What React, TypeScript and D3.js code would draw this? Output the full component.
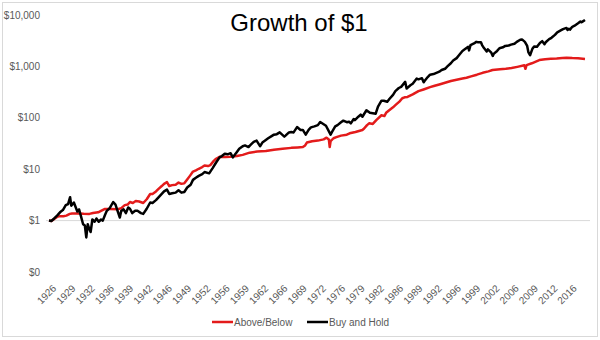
import React from "react";
import * as d3 from "d3";

const W = 600;
const H = 340;

const xTickLabels = ["1926","1929","1932","1936","1939","1942","1946","1949","1952","1956","1959","1962","1966","1969","1972","1976","1979","1982","1986","1989","1992","1996","1999","2002","2006","2009","2012","2016"];
const yTickValues = [0.1, 1, 10, 100, 1000, 10000];
const yTickLabels = ["$0", "$1", "$10", "$100", "$1,000", "$10,000"];

const seriesNames = ["Above/Below", "Buy and Hold"];

// Buy and Hold (decimal year, value)
const holdYears = [1926.0,1926.4,1926.9,1927.4,1927.9,1928.4,1928.9,1929.3,1929.65,1929.85,1930.3,1930.9,1931.2,1931.5,1931.9,1932.2,1932.45,1932.7,1932.9,1933.2,1933.5,1933.9,1934.2,1934.6,1935.0,1935.3,1935.7,1936.0,1936.5,1937.1,1937.5,1937.9,1938.25,1938.5,1938.9,1939.3,1939.7,1940.0,1940.4,1940.9,1941.3,1941.9,1942.3,1942.9,1943.5,1943.9,1944.5,1944.9,1945.5,1945.9,1946.4,1946.8,1947.3,1947.9,1948.4,1948.9,1949.4,1949.9,1950.5,1950.9,1951.4,1951.9,1952.5,1952.9,1953.7,1954.3,1954.9,1955.5,1955.9,1956.4,1956.9,1957.4,1957.8,1958.4,1958.9,1959.5,1959.9,1960.5,1960.9,1961.4,1961.9,1962.5,1962.9,1963.5,1963.9,1964.5,1964.9,1965.4,1965.9,1966.7,1966.9,1967.5,1967.9,1968.3,1968.9,1969.5,1969.9,1970.4,1970.9,1971.3,1971.9,1972.5,1972.9,1973.5,1973.9,1974.7,1974.9,1975.5,1975.9,1976.5,1976.9,1977.5,1977.9,1978.2,1978.7,1978.9,1979.5,1979.9,1980.2,1980.9,1981.5,1982.5,1982.9,1983.5,1983.9,1984.5,1984.9,1985.5,1985.9,1986.5,1986.9,1987.6,1987.85,1988.5,1988.9,1989.6,1989.9,1990.5,1990.8,1990.95,1991.5,1991.9,1992.5,1992.9,1993.5,1993.9,1994.5,1994.9,1995.5,1995.9,1996.5,1996.9,1997.5,1997.9,1998.5,1998.65,1998.9,1999.5,1999.9,2000.2,2000.7,2000.9,2001.2,2001.7,2001.9,2002.5,2002.75,2002.9,2003.5,2003.9,2004.5,2004.9,2005.5,2005.9,2006.5,2006.9,2007.5,2007.8,2008.3,2008.7,2008.9,2009.2,2009.6,2009.9,2010.4,2010.9,2011.3,2011.7,2011.9,2012.5,2012.9,2013.5,2013.9,2014.5,2014.9,2015.5,2015.7,2015.9,2016.1,2016.5,2016.9,2017.5,2017.9,2018.1,2018.4,2018.7];
const holdValues = [1.0,0.98,1.1,1.25,1.45,1.6,2.0,2.1,2.85,1.95,2.25,1.5,1.65,1.25,0.85,0.8,0.47,0.85,0.72,0.6,1.05,0.95,1.1,0.95,1.05,1.0,1.3,1.55,1.75,2.3,2.05,1.5,1.15,1.55,1.65,1.4,1.8,1.7,1.4,1.55,1.55,1.4,1.35,1.7,2.25,2.2,2.5,2.8,3.3,3.7,4.0,3.3,3.4,3.5,3.9,3.5,3.6,4.4,5.0,6.2,6.8,7.4,8.0,8.8,8.3,10.5,13.5,17.0,18.0,20.0,19.5,20.5,17.0,21.0,25.0,28.0,29.0,27.0,30.0,34.0,36.0,28.0,33.0,37.0,40.0,44.0,47.0,48.0,52.0,43.0,45.0,52.0,53.0,52.0,66.0,58.0,58.0,47.0,58.0,65.0,68.0,72.0,83.0,75.0,70.0,47.0,52.0,68.0,72.0,82.0,88.0,82.0,84.0,78.0,95.0,90.0,105.0,115.0,105.0,140.0,125.0,120.0,165.0,215.0,215.0,205.0,235.0,280.0,330.0,380.0,400.0,500.0,370.0,430.0,460.0,580.0,560.0,590.0,490.0,520.0,620.0,690.0,710.0,740.0,790.0,850.0,900.0,1000.0,1150.0,1300.0,1450.0,1650.0,2000.0,2150.0,2400.0,2050.0,2600.0,2800.0,3000.0,2950.0,2950.0,2600.0,2300.0,1950.0,2150.0,1850.0,1600.0,1750.0,2000.0,2250.0,2350.0,2500.0,2550.0,2650.0,2750.0,3000.0,3300.0,3350.0,3000.0,2500.0,1900.0,1650.0,2200.0,2450.0,2400.0,2850.0,3100.0,2700.0,2950.0,3400.0,3600.0,4100.0,4600.0,5000.0,5300.0,5600.0,5100.0,5400.0,5200.0,5900.0,6200.0,6900.0,7500.0,7200.0,7600.0,8000.0];

// Above/Below (decimal year, value)
const abYears = [1926.0,1926.4,1926.9,1927.4,1927.9,1928.5,1929.0,1929.6,1930.0,1931.0,1932.0,1933.0,1933.6,1934.5,1935.0,1935.6,1936.5,1937.9,1938.5,1939.1,1939.6,1940.0,1940.5,1941.0,1941.6,1942.3,1942.9,1943.5,1943.9,1944.5,1944.9,1945.5,1945.9,1946.4,1946.8,1947.3,1947.9,1948.4,1948.9,1949.4,1949.9,1950.4,1950.9,1951.4,1951.9,1952.5,1952.9,1953.5,1953.9,1954.5,1954.9,1955.5,1956.5,1957.3,1958.5,1959.5,1960.7,1962.0,1963.5,1964.9,1966.4,1967.9,1969.0,1969.9,1970.3,1970.6,1971.5,1972.5,1973.5,1974.0,1974.4,1974.55,1974.7,1975.2,1975.7,1976.5,1977.5,1978.0,1979.0,1980.2,1980.5,1981.0,1981.4,1982.0,1982.6,1983.5,1984.0,1984.3,1985.0,1985.5,1986.0,1986.6,1987.1,1987.5,1988.0,1988.9,1989.9,1990.9,1991.9,1992.7,1993.5,1994.5,1995.5,1996.5,1997.5,1998.2,1999.0,2000.0,2001.0,2002.0,2002.7,2004.0,2005.0,2006.0,2007.0,2008.2,2008.4,2008.6,2009.5,2010.8,2011.8,2012.8,2013.8,2014.8,2015.5,2016.5,2017.5,2018.7];
const abValues = [1.0,0.98,1.08,1.18,1.22,1.22,1.25,1.35,1.38,1.38,1.36,1.35,1.4,1.45,1.55,1.68,1.68,1.66,1.75,2.0,2.05,2.3,2.2,2.4,2.35,2.2,2.6,3.3,3.3,3.7,4.1,4.7,5.2,5.6,4.7,4.9,5.0,5.5,5.2,5.3,6.3,7.5,9.0,9.5,10.2,11.0,11.8,11.5,12.0,14.5,16.0,17.5,17.3,17.5,18.0,19.0,21.0,22.0,22.5,24.0,25.0,26.0,26.5,27.0,29.0,33.0,35.0,36.0,38.0,41.0,38.0,27.0,35.0,40.0,42.0,45.0,47.0,50.0,53.0,58.0,62.0,72.0,78.0,76.0,90.0,112.0,108.0,125.0,145.0,160.0,180.0,207.0,240.0,250.0,255.0,285.0,330.0,360.0,395.0,420.0,445.0,480.0,520.0,550.0,580.0,600.0,640.0,690.0,750.0,800.0,850.0,880.0,900.0,930.0,980.0,1050.0,900.0,1060.0,1150.0,1330.0,1380.0,1410.0,1430.0,1460.0,1470.0,1450.0,1440.0,1400.0];

const colors = ["#e31b1b", "#000000"];

export default function App() {
  const x = d3.scaleLinear().domain([1926, 2018.7]).range([49, 585]);
  const y = d3.scaleLog().domain([0.1, 10000]).range([272, 15]);

  const abData = abYears.map((t, i) => [t, abValues[i]] as [number, number]);
  const holdData = holdYears.map((t, i) => [t, holdValues[i]] as [number, number]);

  const line = d3
    .line<[number, number]>()
    .x((d) => x(d[0]))
    .y((d) => y(d[1]));

  const font = "'Liberation Sans', Arial, sans-serif";
  const grey = "#595959";

  return (
    <svg
      width={W}
      height={H}
      style={{ position: "absolute", left: 0, top: 0, background: "#fff" }}
      fontFamily={font}
    >
      <rect x={2.5} y={2.5} width={595} height={334} fill="#fff" stroke="#d9d9d9" strokeWidth={1} />
      <text x={299} y={31} textAnchor="middle" fontSize={24} fill="#000">
        Growth of $1
      </text>

      {/* axis line at $1 */}
      <line x1={46} x2={590} y1={y(1)} y2={y(1)} stroke="#d9d9d9" strokeWidth={1} />

      {yTickValues.map((v, i) => (
        <text
          key={v}
          x={40}
          y={y(v)}
          dy="0.35em"
          textAnchor="end"
          fontSize={10}
          fill={grey}
        >
          {yTickLabels[i]}
        </text>
      ))}

      {xTickLabels.map((lab, i) => {
        const tx = x(1926 + (i * 40) / 12) + 3;
        const ty = 284;
        return (
          <text
            key={lab + i}
            x={tx}
            y={ty}
            textAnchor="end"
            fontSize={10}
            fill={grey}
            dy="0.7em"
            transform={`rotate(-45 ${tx} ${ty})`}
          >
            {lab}
          </text>
        );
      })}

      <path d={line(abData) || ""} fill="none" stroke={colors[0]} strokeWidth={2.5} strokeLinejoin="round" />
      <path d={line(holdData) || ""} fill="none" stroke={colors[1]} strokeWidth={2.5} strokeLinejoin="round" />

      {/* legend */}
      <line x1={212} x2={233} y1={322} y2={322} stroke={colors[0]} strokeWidth={2.5} />
      <text x={234} y={322} dy="0.35em" fontSize={10} fill={grey}>
        {seriesNames[0]}
      </text>
      <line x1={307} x2={328} y1={322} y2={322} stroke={colors[1]} strokeWidth={2.5} />
      <text x={329} y={322} dy="0.35em" fontSize={10} fill={grey}>
        {seriesNames[1]}
      </text>
    </svg>
  );
}
